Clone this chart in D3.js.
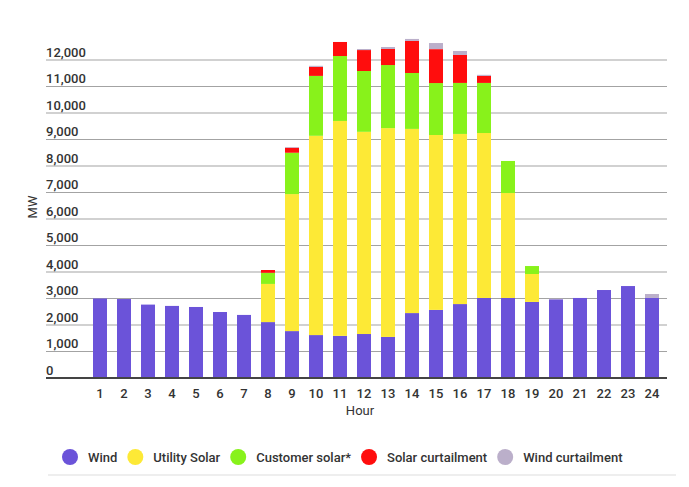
<!DOCTYPE html>
<html>
<head>
<meta charset="utf-8">
<script src="https://cdn.jsdelivr.net/npm/d3@7"></script>
<style>
  html, body { margin: 0; padding: 0; background: #fff; }
  svg { display: block; font-family: Roboto, "Noto Sans", sans-serif; }
</style>
</head>
<body>
<svg id="chart" width="689" height="487"></svg>
<script>
// Hourly generation (MW)
var hours = d3.range(1, 25).map(String);
var wind = [3000, 2980, 2770, 2720, 2680, 2490, 2380, 2110, 1770, 1620, 1590, 1660,
  1550, 2450, 2570, 2790, 3020, 3020, 2870, 2970, 3020, 3320, 3470, 3020];
var utilitySolar = [0, 0, 0, 0, 0, 0, 0, 1440, 5170, 7520, 8110, 7630,
  7880, 6950, 6600, 6420, 6225, 3960, 1055, 0, 0, 0, 0, 0];
var customerSolar = [0, 0, 0, 0, 0, 0, 0, 420, 1560, 2260, 2450, 2295,
  2380, 2110, 1960, 1925, 1890, 1210, 300, 0, 0, 0, 0, 0];
var solarCurtailment = [0, 0, 0, 0, 0, 0, 0, 105, 190, 340, 530, 790,
  605, 1210, 1280, 1055, 265, 0, 0, 0, 0, 0, 0, 0];
var windCurtailment = [0, 0, 0, 0, 0, 0, 0, 0, 25, 40, 0, 40,
  75, 75, 230, 150, 40, 0, 0, 20, 0, 0, 0, 150];
var yTicks = [0, 1000, 2000, 3000, 4000, 5000, 6000, 7000, 8000, 9000, 10000, 11000, 12000];

var seriesNames = ["Wind", "Utility Solar", "Customer solar*", "Solar curtailment", "Wind curtailment"];
var seriesValues = [wind, utilitySolar, customerSolar, solarCurtailment, windCurtailment];
var colors = ["#6b53d9", "#fde936", "#88f21b", "#ff0d0d", "#bbafca"];

var svg = d3.select("#chart");

var x = d3.scaleBand().domain(hours).range([88, 664]).paddingInner(0.4167).paddingOuter(0.2083);
var y = d3.scaleLinear().domain([0, 12000]).range([378, 60]);

// gridlines + left-aligned labels sitting above them
var grid = svg.append("g");
yTicks.forEach(function (t) {
  if (t > 0) {
    grid.append("line")
      .attr("x1", 46).attr("x2", 667)
      .attr("y1", y(t)).attr("y2", y(t))
      .style("stroke", "#a3a3a3")
      .style("stroke-width", 1.2);
  }
  grid.append("text")
    .attr("x", 46)
    .attr("y", y(t) - 3.5)
    .style("font-size", "13px")
    .style("font-weight", "500")
    .style("fill", "#333")
    .text(d3.format(",")(t));
});

// stacked bars
var table = hours.map(function (h, i) {
  var row = { hour: h };
  seriesNames.forEach(function (name, k) { row[name] = seriesValues[k][i]; });
  return row;
});
var stacked = d3.stack().keys(seriesNames)(table);

svg.append("g")
  .selectAll("g")
  .data(stacked)
  .enter()
  .append("g")
  .style("fill", function (d, i) { return colors[i]; })
  .selectAll("rect")
  .data(function (d) { return d.filter(function (s) { return s[1] > s[0]; }); })
  .enter()
  .append("rect")
  .attr("x", function (d) { return x(d.data.hour); })
  .attr("width", x.bandwidth())
  .attr("y", function (d) { return y(d[1]); })
  .attr("height", function (d) { return y(d[0]) - y(d[1]); });

// baseline
svg.append("line")
  .attr("x1", 46).attr("x2", 667)
  .attr("y1", y(0)).attr("y2", y(0))
  .style("stroke", "#444")
  .style("stroke-width", 2);

// hour ticks
var xAxis = svg.append("g")
  .attr("transform", "translate(0," + (y(0) + 5) + ")")
  .call(d3.axisBottom(x).tickSize(0).tickPadding(6));
xAxis.select(".domain").remove();
xAxis.selectAll("text")
  .style("font-family", "Roboto, sans-serif")
  .style("font-size", "13px")
  .style("font-weight", "500")
  .style("fill", "#333");

svg.append("text")
  .attr("x", 360)
  .attr("y", 415)
  .attr("text-anchor", "middle")
  .style("font-size", "13px")
  .style("fill", "#333")
  .text("Hour");

svg.append("text")
  .attr("transform", "translate(37,207) rotate(-90)")
  .attr("text-anchor", "middle")
  .style("font-size", "13px")
  .style("fill", "#333")
  .text("MW");

// legend
var legend = svg.append("g").attr("class", "legend");
var cx = 70;
seriesNames.forEach(function (name, i) {
  legend.append("circle")
    .attr("cx", cx)
    .attr("cy", 457)
    .attr("r", 8)
    .style("fill", colors[i]);
  var label = legend.append("text")
    .attr("x", cx + 18)
    .attr("y", 457)
    .attr("dy", "0.35em")
    .style("font-size", "13px")
    .style("font-weight", "500")
    .style("fill", "#333")
    .text(name);
  cx += 18 + label.node().getComputedTextLength() + 18;
});

svg.append("line")
  .attr("x1", 48).attr("x2", 676)
  .attr("y1", 475).attr("y2", 475)
  .style("stroke", "#ddd")
  .style("stroke-width", 1);
</script>
</body>
</html>
